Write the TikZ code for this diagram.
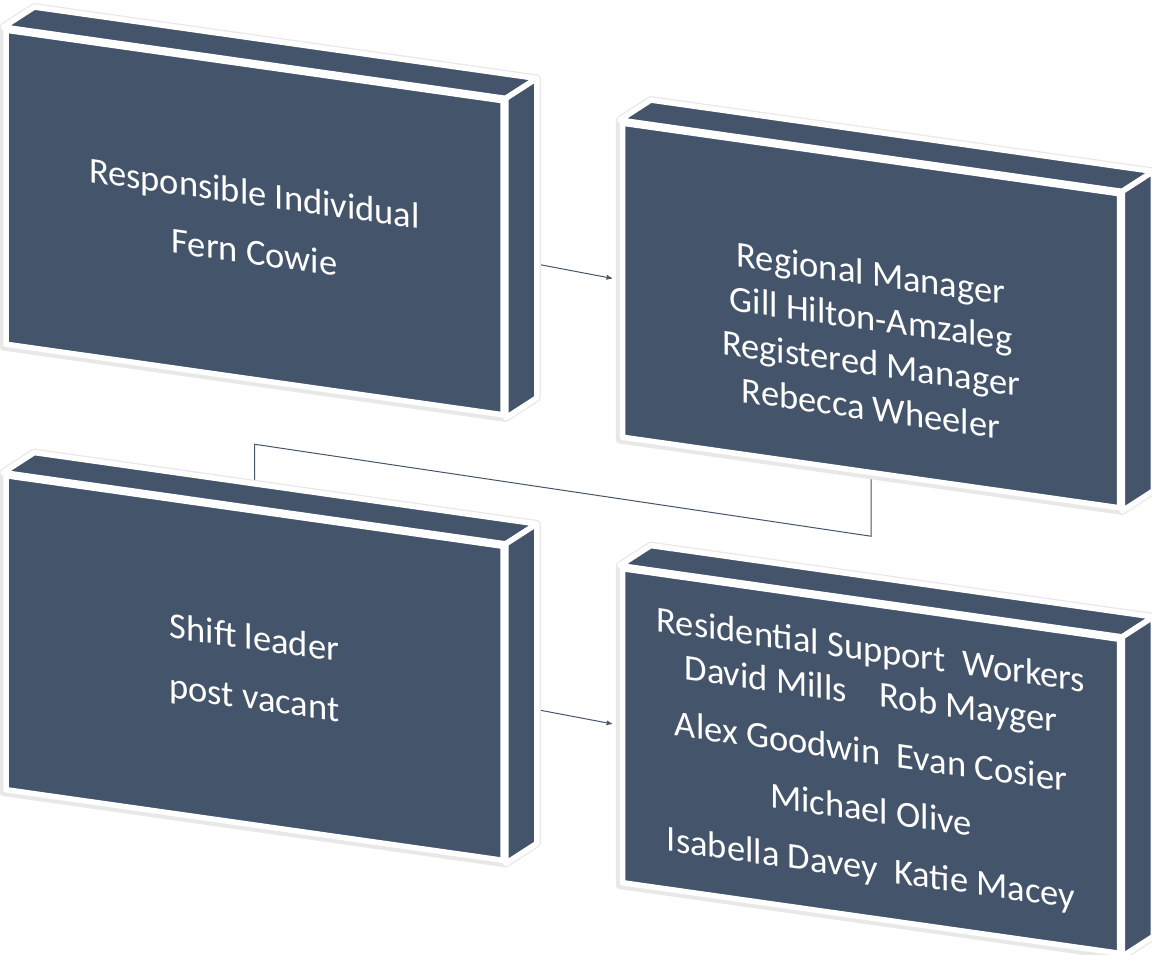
\documentclass[tikz,border=0pt]{standalone}
\usepackage{fontspec}
\setmainfont{Carlito}
\usepackage{xcolor}
\usepackage{tikz}
\usetikzlibrary{positioning,arrows,calc,backgrounds}
\definecolor{slate}{HTML}{44546A}

\tikzset{
	face/.style={rectangle,draw=white,line width=5.5pt,line join=round,fill=slate,
		minimum width=497pt,minimum height=314pt,inner sep=0pt,yslant=-0.142},
	depth/.style={draw=white,line width=5.5pt,line join=round,fill=slate},
	halo/.style={draw=black!9,line width=8pt,line join=round},
	caption/.style={text=white,align=center,yslant=-0.142,font=\fontsize{36.5}{45}\selectfont},
	link/.style={draw=slate,line width=1pt}
}

\begin{document}
\begin{tikzpicture}[x=1pt,y=1pt,>=stealth',node distance=126pt]
			\useasboundingbox (0,0) rectangle (1152,955);
			\node[face] (ri) at (254.5,732.5) {};
			\node[face] (rm) at (871,639.5) {};
			\node[face] (sl) [below=of ri] {};
			\node[face] (rsw) [below=of rm] {};
	
			% top and side of each box
			\foreach \b in {ri,rm,sl,rsw}{
				\draw[depth] (\b.north west) -- ++(31,20) -- ($(\b.north east)+(31,20)$) -- (\b.north east) -- cycle;
				\draw[depth] (\b.north east) -- ++(31,20) -- ($(\b.south east)+(31,20)$) -- (\b.south east) -- cycle;
			}
	
			\node[caption] (ri-t) at (ri.center) {Responsible Individual\\[14pt]Fern Cowie};
			\node[caption] (rm-t) at ([yshift=-25pt]rm.center) {Regional Manager\\Gill Hilton-Amzaleg\\Registered Manager\\Rebecca Wheeler};
			\node[caption] (sl-t) at ([yshift=-2pt]sl.center) {Shift leader\\[15pt]post vacant};
			\node[caption] (rsw-t) at (rsw.center) {Residential Support\ \ Workers\\[-1pt]David Mills\ \ \ \ Rob Mayger\\[13pt]Alex Goodwin\ \ Evan Cosier\\[13pt]Michael Olive\\[13pt]Isabella Davey\ \ Katie Macey};
	
			\begin{scope}[on background layer]
				\draw[link,->,shorten >=8pt] (ri.east) -- (rm.west);
				\draw[link,->,shorten >=8pt] (sl.east) -- (rsw.west);
				\draw[link] (rm.south) -- ++(0,-61) -- ($(sl.north)+(0,64)$) -- (sl.north);
				\foreach \b in {ri,rm,sl,rsw}
					\draw[halo] (\b.north west) -- ++(31,20) -- ($(\b.north east)+(31,20)$) -- ($(\b.south east)+(31,20)$) -- (\b.south east) -- (\b.south west) -- cycle;
			\end{scope}
\end{tikzpicture}
\end{document}
